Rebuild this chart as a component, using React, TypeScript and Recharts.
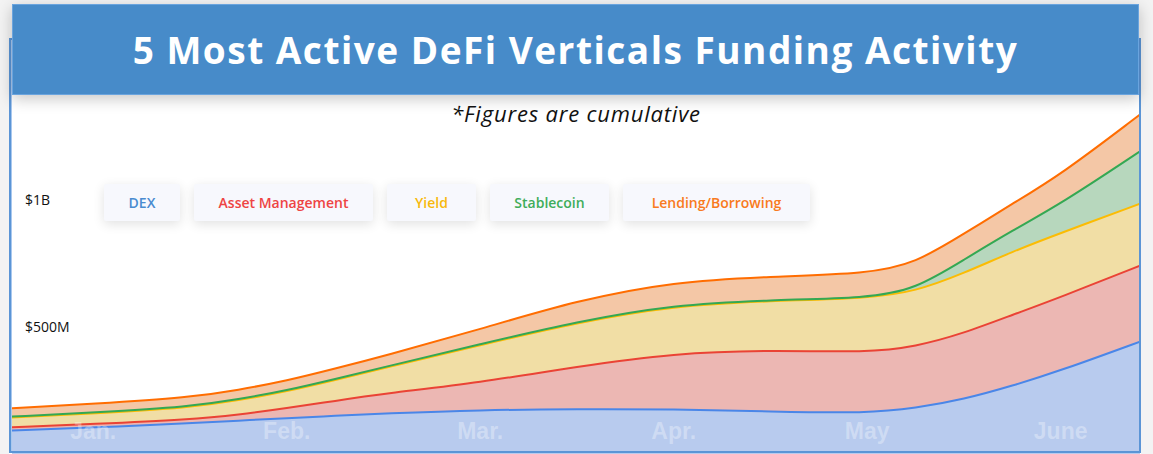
import { Area, AreaChart, XAxis, YAxis } from "recharts";

// month index of each reading (0 = Jan., 5 = June); the ends sit at the plot edges
const positions = [-0.42, 0, 0.5, 0.75, 1, 1.25, 1.5, 2, 2.5, 3, 3.5, 4, 4.25, 4.5, 4.75, 5, 5.41];
const months = ["Jan.", "Feb.", "Mar.", "Apr.", "May", "June"];
const monthTicks = [0, 1, 2, 3, 4, 5];
const valueTicks = [500, 1000];

// cumulative funding, $M, stacked bottom to top
const dex = [92, 104, 121, 131, 141, 150, 159, 173, 177, 176, 167, 160, 180, 215, 268, 328, 442];
const assetManagement = [13, 14, 15, 23, 39, 59, 78, 108, 167, 220, 242, 239, 242, 260, 279, 289, 299];
const yieldFunding = [39, 41, 46, 57, 66, 82, 100, 147, 173, 187, 193, 213, 217, 236, 249, 252, 243];
const stablecoin = [3, 4, 4, 4, 4, 4, 4, 4, 4, 4, 4, 1, 9, 53, 83, 114, 206];
const lending = [33, 34, 36, 37, 38, 41, 44, 59, 83, 91, 92, 96, 102, 102, 105, 115, 145];

const series = [
  { key: "dex", label: "DEX", stroke: "#4a86e8", fill: "#b8cbee", text: "#4a8bd0", width: 76 },
  { key: "am", label: "Asset Management", stroke: "#ea4335", fill: "#ecb7b3", text: "#ee4444", width: 179 },
  { key: "yield", label: "Yield", stroke: "#fbbc04", fill: "#f1dea5", text: "#f8b90c", width: 89 },
  { key: "stable", label: "Stablecoin", stroke: "#34a853", fill: "#b7d7bd", text: "#3ead5a", width: 119 },
  { key: "lending", label: "Lending/Borrowing", stroke: "#ff6d01", fill: "#f4c7a6", text: "#f97a20", width: 187 },
];

const data = positions.map((x, i) => ({
  x,
  dex: dex[i],
  am: assetManagement[i],
  yield: yieldFunding[i],
  stable: stablecoin[i],
  lending: lending[i],
}));

function formatValue(v: number): string {
  return v >= 1000 ? `$${v / 1000}B` : `$${v}M`;
}

export default function App() {
  return (
    <div
      style={{
        position: "absolute",
        left: 0,
        top: 0,
        width: 1153,
        height: 454,
        overflow: "hidden",
        background: "#f3f3f3",
        fontFamily: "'Open Sans', sans-serif",
      }}
    >
      <div
        style={{
          position: "absolute",
          left: 9,
          top: 38,
          width: 1132,
          height: 416,
          background: "#ffffff",
        }}
      />
      <div style={{ position: "absolute", left: 12, top: 0 }}>
        <AreaChart
          data={data}
          height={454}
          margin={{ top: 98, right: 0, bottom: 0, left: 0 }}
          width={1128}
        >
          <XAxis
            axisLine={false}
            dataKey="x"
            domain={["dataMin", "dataMax"]}
            mirror
            tick={{
              fill: "#ffffff",
              fillOpacity: 0.32,
              fontSize: 23,
              fontWeight: 700,
              fontFamily: "'Liberation Sans', Arial, sans-serif",
            }}
            tickFormatter={(v: number) => months[v] ?? ""}
            tickLine={false}
            tickMargin={15}
            tickSize={0}
            ticks={monthTicks}
            type="number"
          />
          <YAxis
            axisLine={false}
            domain={[0, 1400]}
            mirror
            tick={{ fill: "#111", fontSize: 14, fontFamily: "'Open Sans', sans-serif" }}
            tickFormatter={formatValue}
            tickLine={false}
            tickMargin={13}
            tickSize={0}
            ticks={valueTicks}
          />
          {/* fills first, then all the lines on top, like the original */}
          {series.map((s) => (
            <Area
              activeDot={false}
              dataKey={s.key}
              dot={false}
              fill={s.fill}
              fillOpacity={1}
              isAnimationActive={false}
              key={`fill-${s.key}`}
              stackId="fills"
              stroke="none"
              type="basis"
            />
          ))}
          {series.map((s) => (
            <Area
              activeDot={false}
              dataKey={s.key}
              dot={false}
              fill="none"
              isAnimationActive={false}
              key={`line-${s.key}`}
              stackId="lines"
              stroke={s.stroke}
              strokeWidth={2}
              type="basis"
            />
          ))}
        </AreaChart>
      </div>
      {/* card border drawn over the plot */}
      <div
        style={{
          position: "absolute",
          left: 9,
          top: 38,
          width: 1128,
          height: 411,
          border: "2px solid #5b95d6",
          boxShadow: "inset 1px 0 0 #a9c8ee",
          pointerEvents: "none",
        }}
      />
      <div
        style={{
          position: "absolute",
          left: 12,
          top: 4,
          width: 1125,
          height: 89,
          background: "#478bc9",
          border: "1px solid #6aa4de",
          boxShadow: "0 4px 14px rgba(0,0,0,0.22)",
          color: "#fff",
          fontWeight: 700,
          fontSize: 37,
          textAlign: "center",
          lineHeight: "89px",
          letterSpacing: 1.5,
        }}
      >
        5 Most Active DeFi Verticals Funding Activity
      </div>
      <div
        style={{
          position: "absolute",
          left: 12,
          width: 1128,
          top: 98,
          textAlign: "center",
          fontStyle: "italic",
          fontSize: 22,
          letterSpacing: 0.8,
          color: "#111",
        }}
      >
        *Figures are cumulative
      </div>
      <div style={{ position: "absolute", left: 104, top: 184, display: "flex", gap: 14 }}>
        {series.map((s) => (
          <div
            key={s.key}
            style={{
              width: s.width,
              height: 37,
              background: "#f7f8fd",
              boxShadow: "0 3px 12px rgba(0,0,0,0.12)",
              borderRadius: 2,
              color: s.text,
              fontSize: 14,
              fontWeight: 600,
              textAlign: "center",
              lineHeight: "37px",
            }}
          >
            {s.label}
          </div>
        ))}
      </div>
    </div>
  );
}
